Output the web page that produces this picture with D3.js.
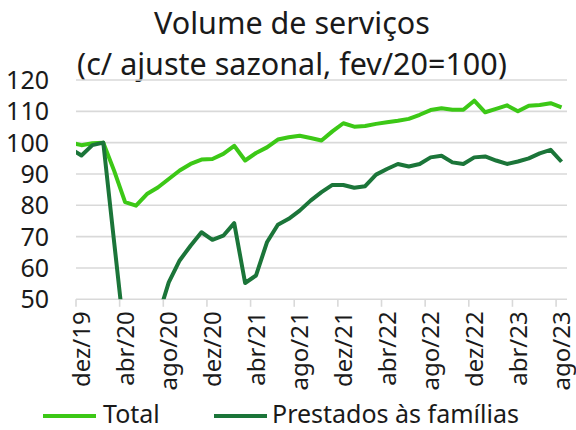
<!DOCTYPE html>
<html><head><meta charset="utf-8">
<script src="https://cdn.jsdelivr.net/npm/d3@7"></script>
<style>body{margin:0;background:#fff}text{font-family:"Noto Sans",sans-serif;fill:#1a1a1a}</style>
</head><body><svg id="c" width="576" height="430"></svg>
<script>
const months = ["nov/19","dez/19","jan/20","fev/20","mar/20","abr/20","mai/20","jun/20","jul/20","ago/20","set/20","out/20","nov/20","dez/20","jan/21","fev/21","mar/21","abr/21","mai/21","jun/21","jul/21","ago/21","set/21","out/21","nov/21","dez/21","jan/22","fev/22","mar/22","abr/22","mai/22","jun/22","jul/22","ago/22","set/22","out/22","nov/22","dez/22","jan/23","fev/23","mar/23","abr/23","mai/23","jun/23","jul/23","ago/23"];
const total = [100.0,99.2,99.8,100,91.0,81.0,79.9,83.6,85.7,88.4,91.1,93.2,94.6,94.8,96.4,99.0,94.3,96.7,98.5,101.0,101.7,102.2,101.5,100.7,103.6,106.2,105.1,105.3,106.0,106.5,107.0,107.6,108.9,110.4,111.0,110.5,110.5,113.4,109.7,110.8,111.9,110.0,111.8,112.0,112.6,111.3];
const familias = [98.1,95.9,99.2,100,68.1,36.5,38.5,41.0,44.1,55.4,62.4,67.1,71.4,69.0,70.3,74.3,55.2,57.6,68.2,73.8,75.7,78.3,81.5,84.2,86.5,86.5,85.6,86.1,89.8,91.6,93.2,92.4,93.2,95.3,95.8,93.7,93.2,95.3,95.6,94.3,93.2,94.0,95.0,96.6,97.7,93.9];
const xTickLabels = ["dez/19","abr/20","ago/20","dez/20","abr/21","ago/21","dez/21","abr/22","ago/22","dez/22","abr/23","ago/23"];
const yTicks = [50,60,70,80,90,100,110,120];
const seriesNames = ["Total","Prestados às famílias"];
const colors = ["#3cc816","#1b7539"];
const titleLines = ["Volume de serviços","(c/ ajuste sazonal, fev/20=100)"];

const svg = d3.select("#c");
const L=76, R=567, T=80, B=299.3;
const x = d3.scaleLinear().domain([0.5, months.length-0.5]).range([L,R]);
const y = d3.scaleLinear().domain([50,120]).range([B,T]);

// title
svg.selectAll("text.title").data(titleLines).enter().append("text")
  .attr("class","title").attr("x",292).attr("y",(d,i)=>i?75:34)
  .attr("text-anchor","middle").style("font-size","30.5px").text(d=>d);

// gridlines
svg.append("g").selectAll("line").data(yTicks.filter(v=>v>50)).enter().append("line")
  .attr("x1",L).attr("x2",R).attr("y1",d=>y(d)).attr("y2",d=>y(d))
  .attr("stroke","#d9d9d9").attr("stroke-width",1.6);
// y labels
svg.append("g").selectAll("text").data(yTicks).enter().append("text")
  .attr("x",49).attr("y",d=>y(d)).attr("dy","0.36em").attr("text-anchor","end")
  .style("font-size","25px").text(d=>d);

// x axis line and ticks
svg.append("line").attr("x1",L).attr("x2",R).attr("y1",B).attr("y2",B).attr("stroke","#d9d9d9").attr("stroke-width",1.6);
const labelIdx = xTickLabels.map(l=>months.indexOf(l));
svg.append("g").selectAll("line").data(labelIdx).enter().append("line")
  .attr("x1",d=>x(d-0.5)).attr("x2",d=>x(d-0.5)).attr("y1",B).attr("y2",B+7.5)
  .attr("stroke","#d9d9d9").attr("stroke-width",1.6);
svg.append("g").selectAll("text").data(xTickLabels).enter().append("text")
  .attr("transform",(d)=>`translate(${x(months.indexOf(d))},${B+12}) rotate(-90)`)
  .attr("dy","0.36em").attr("text-anchor","end").style("font-size","24px").text(d=>d);

// lines
svg.append("clipPath").attr("id","clip").append("rect").attr("x",L).attr("y",0).attr("width",R-L).attr("height",B);
const line = d3.line().x((d,i)=>x(i)).y(d=>y(d)).curve(d3.curveLinear);
const g = svg.append("g").attr("clip-path","url(#clip)");
[total,familias].forEach((s,k)=>{
  g.append("path").attr("d",line(s)).attr("fill","none").attr("stroke",colors[k])
   .attr("stroke-width",4).attr("stroke-linejoin","round");
});

// legend
const leg = [{x1:43,x2:96,tx:103},{x1:214,x2:267,tx:272}];
leg.forEach((p,k)=>{
  svg.append("line").attr("x1",p.x1).attr("x2",p.x2).attr("y1",416).attr("y2",416)
    .attr("stroke",colors[k]).attr("stroke-width",4);
  svg.append("text").attr("x",p.tx).attr("y",414).attr("dy","0.36em").style("font-size","25px").text(seriesNames[k]);
});
</script></body></html>
